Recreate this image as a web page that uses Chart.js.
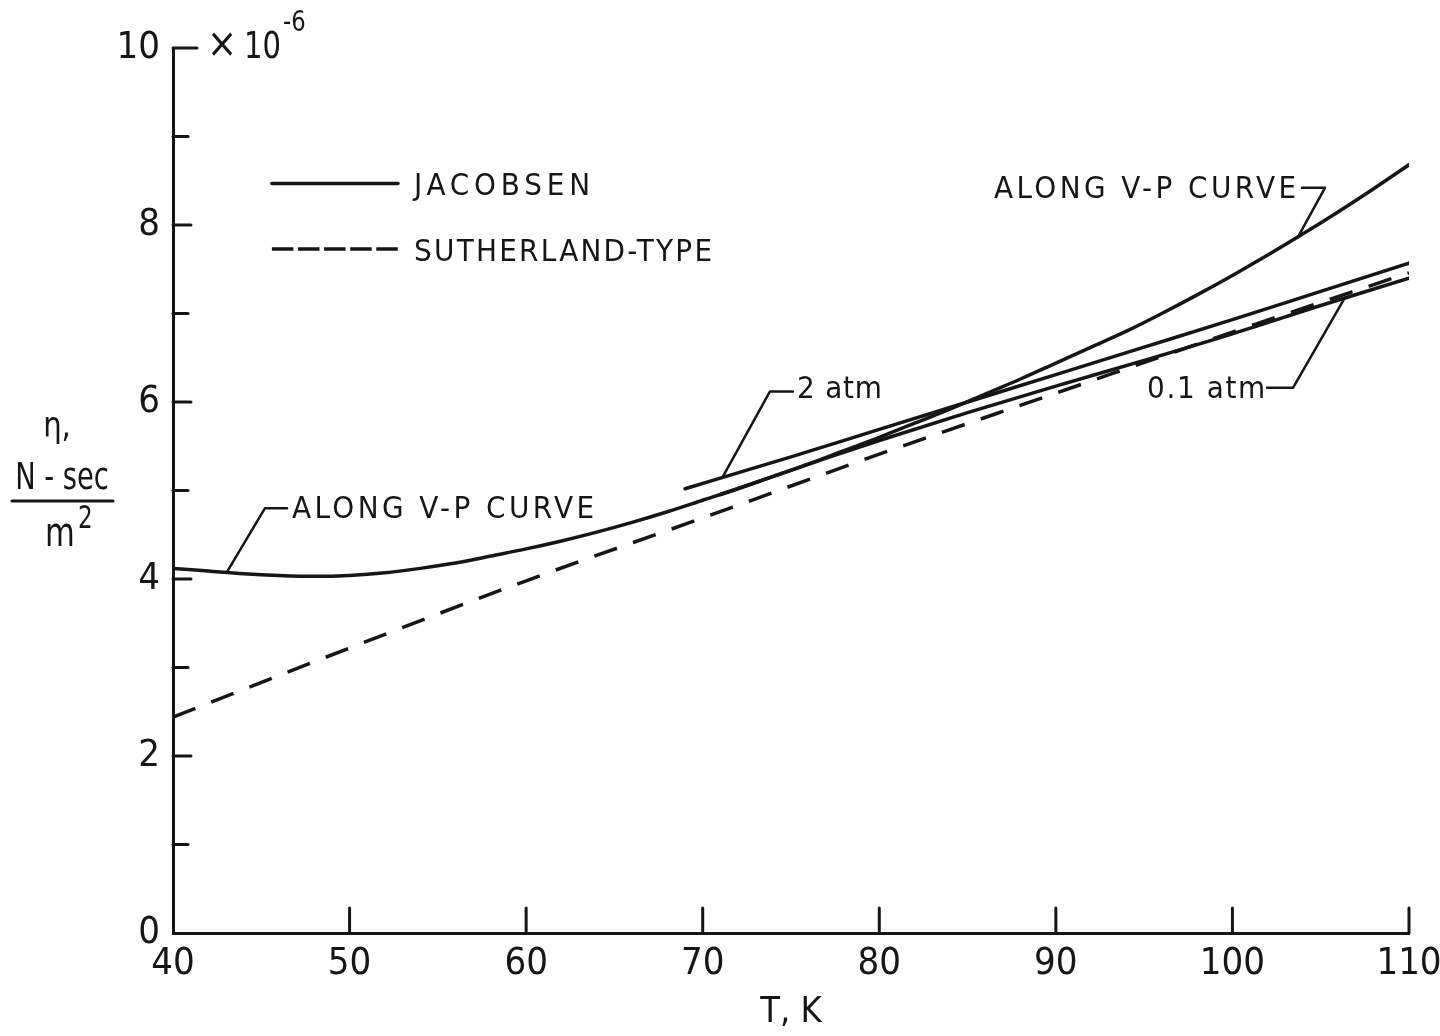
<!DOCTYPE html>
<html lang="en">
<head>
<meta charset="UTF-8">
<title>Viscosity of nitrogen vs temperature</title>
<script src="https://cdn.jsdelivr.net/npm/chart.js"></script>
<style>
  html, body { margin: 0; padding: 0; background: #fff; }
  .chart-box { width: 1440px; height: 1036px; }
</style>
</head>
<body>
<div class="chart-box"><canvas id="etaChart"></canvas></div>
<script>
  const INK = '#161616';
  const FONT = "'Liberation Sans Narrow', 'DejaVu Sans Condensed', sans-serif";

  // Jacobsen, along the vapour-pressure curve
  const vpT   = [40, 42, 44, 46, 48, 50, 52, 54, 56, 58, 60, 62, 64, 66, 68, 70, 72, 74, 76, 78,
                 80, 82, 84, 86, 88, 90, 92, 94, 96, 98, 100, 102, 104, 106, 108, 110];
  const vpEta = [4.12, 4.09, 4.06, 4.04, 4.03, 4.04, 4.07, 4.12, 4.18, 4.26, 4.34, 4.43, 4.53, 4.64, 4.76, 4.89, 5.02, 5.16, 5.30, 5.45,
                 5.60, 5.76, 5.92, 6.09, 6.26, 6.44, 6.62, 6.80, 7.00, 7.21, 7.43, 7.66, 7.90, 8.15, 8.41, 8.68];

  // Jacobsen, 2 atm
  const atm2T   = [69, 75, 80, 85, 90, 95, 100, 105, 110];
  const atm2Eta = [5.02, 5.38, 5.69, 6.00, 6.31, 6.62, 6.93, 7.25, 7.57];

  // Jacobsen, 0.1 atm
  const atm01T   = [71, 74, 77, 80, 85, 90, 95, 100, 105, 110];
  const atm01Eta = [4.955, 5.16, 5.365, 5.565, 5.88, 6.18, 6.47, 6.77, 7.09, 7.40];

  // Sutherland-type
  const suthT   = [40, 50, 60, 70, 80, 90, 100, 110];
  const suthEta = [2.44, 3.22, 3.98, 4.69, 5.41, 6.10, 6.79, 7.46];

  const xTicks  = [40, 50, 60, 70, 80, 90, 100, 110];
  const yTicks  = [0, 1, 2, 3, 4, 5, 6, 7, 8, 9, 10];
  const yLabels = [0, 2, 4, 6, 8, 10];

  const pts = (xs, ys) => xs.map((t, i) => ({ x: t, y: ys[i] }));

  const lineStyle = {
    borderColor: INK,
    borderWidth: 3.5,
    pointRadius: 0,
    fill: false,
    cubicInterpolationMode: 'monotone',
    borderCapStyle: 'round'
  };

  // draw text stretched by letter spacing to a given width (left edge x)
  function spread(ctx, str, x, y, size, width) {
    ctx.font = size + 'px ' + FONT;
    ctx.letterSpacing = '0px';
    const w0 = ctx.measureText(str).width;
    const gap = str.length > 1 ? (width - w0) / (str.length - 1) : 0;
    ctx.letterSpacing = gap + 'px';
    ctx.textAlign = 'left';
    ctx.textBaseline = 'middle';
    ctx.fillText(str, x, y);
    ctx.letterSpacing = '0px';
  }

  function text(ctx, str, x, y, size, align, sx) {
    ctx.save();
    ctx.translate(x, y);
    ctx.scale(sx || 1, 1);
    ctx.font = size + 'px ' + FONT;
    ctx.letterSpacing = '0px';
    ctx.textAlign = align;
    ctx.textBaseline = 'middle';
    ctx.fillText(str, 0, 0);
    ctx.restore();
  }

  function poly(ctx, points) {
    ctx.beginPath();
    points.forEach((p, i) => i ? ctx.lineTo(p[0], p[1]) : ctx.moveTo(p[0], p[1]));
    ctx.stroke();
  }

  const annotate = {
    id: 'annotate',
    afterDraw(chart) {
      const { ctx, scales: { x, y } } = chart;
      const px = t => x.getPixelForValue(t);
      const py = v => y.getPixelForValue(v);
      ctx.save();
      ctx.strokeStyle = INK;
      ctx.fillStyle = INK;
      ctx.lineCap = 'round';
      ctx.lineJoin = 'round';

      // inward tick marks
      ctx.lineWidth = 3;
      y.ticks.forEach(t => {
        if (t.value === 0) return;
        const len = t.value === 10 ? 24 : (t.value % 2 === 0 ? 18 : 15);
        poly(ctx, [[x.left, py(t.value)], [x.left + len, py(t.value)]]);
      });
      x.ticks.forEach(t => {
        if (t.value === 40) return;
        poly(ctx, [[px(t.value), y.bottom], [px(t.value), y.bottom - 25]]);
      });

      // legend
      ctx.lineWidth = 3.5;
      poly(ctx, [[px(45.6), py(8.47)], [px(52.74), py(8.47)]]);
      ctx.lineCap = 'butt';
      ctx.setLineDash([21.5, 4.6]);
      poly(ctx, [[px(45.6), py(7.73)], [px(52.74), py(7.73)]]);
      ctx.setLineDash([]);
      ctx.lineCap = 'round';
      spread(ctx, 'JACOBSEN', px(53.65), py(8.43), 31, 176);
      spread(ctx, 'SUTHERLAND-TYPE', px(53.65), py(7.68), 31, 298);

      // curve labels with leaders
      ctx.lineWidth = 2.5;
      spread(ctx, 'ALONG V-P CURVE', px(103.6) - 302, py(8.40), 31, 302);
      poly(ctx, [[px(103.94), py(8.42)], [px(105.24), py(8.42)], [px(103.7), py(7.86)]]);

      spread(ctx, 'ALONG V-P CURVE', px(46.74), py(4.78), 31, 302);
      poly(ctx, [[px(46.46), py(4.80)], [px(45.21), py(4.80)], [px(43.06), py(4.08)]]);

      spread(ctx, '2 atm', px(75.34), py(6.14), 31, 85);
      poly(ctx, [[px(75.11), py(6.12)], [px(73.81), py(6.12)], [px(71.15), py(5.16)]]);

      spread(ctx, '0.1 atm', px(101.85) - 118, py(6.14), 31, 118);
      poly(ctx, [[px(101.96), py(6.16)], [px(103.43), py(6.16)], [px(106.37), py(7.18)]]);

      // exponent note at top of axis
      text(ctx, '\u00d7', x.left + 49, py(10) - 1, 40, 'center');
      text(ctx, '10', x.left + 71, py(10), 38, 'left', 0.85);
      text(ctx, '-6', x.left + 110, py(10) - 24, 28, 'left', 0.9);

      // y axis title
      text(ctx, '\u03b7,', 57, 428, 36, 'center', 0.9);
      text(ctx, 'N - sec', 62, 479, 37, 'center', 0.82);
      ctx.lineWidth = 3;
      poly(ctx, [[12, 501], [113, 501]]);
      text(ctx, 'm', 60, 536, 40, 'center', 0.85);
      text(ctx, '2', 78, 520, 32, 'left', 0.8);

      ctx.restore();
    }
  };

  new Chart(document.getElementById('etaChart'), {
    type: 'line',
    data: {
      datasets: [
        { label: 'Along V-P curve', data: pts(vpT, vpEta), ...lineStyle },
        { label: '2 atm', data: pts(atm2T, atm2Eta), ...lineStyle },
        { label: '0.1 atm', data: pts(atm01T, atm01Eta), ...lineStyle },
        { label: 'Sutherland-type', data: pts(suthT, suthEta), ...lineStyle, borderCapStyle: 'butt', borderDash: [24, 17] }
      ]
    },
    options: {
      responsive: true,
      maintainAspectRatio: false,
      animation: false,
      layout: { padding: { left: 0, top: 48, right: 31, bottom: 0 } },
      plugins: { legend: { display: false }, tooltip: { enabled: false } },
      scales: {
        x: {
          type: 'linear', min: 40, max: 110,
          afterBuildTicks: s => { s.ticks = xTicks.map(v => ({ value: v })); },
          afterFit: s => { s.height = 103; s.paddingLeft = 0; s.paddingRight = 0; },
          grid: { display: false, drawTicks: false },
          border: { display: true, color: INK, width: 3 },
          ticks: { color: INK, padding: 8, font: { family: FONT, size: 38 }, maxRotation: 0, autoSkip: false },
          title: { display: true, text: 'T, K', color: INK, font: { family: FONT, size: 36 }, padding: { top: 0, bottom: 2 } }
        },
        y: {
          type: 'linear', min: 0, max: 10,
          afterBuildTicks: s => { s.ticks = yTicks.map(v => ({ value: v })); },
          afterFit: s => { s.width = 173; s.paddingTop = 0; s.paddingBottom = 0; },
          grid: { display: false, drawTicks: false },
          border: { display: true, color: INK, width: 3 },
          ticks: {
            color: INK, padding: 13, autoSkip: false,
            font: { family: FONT, size: 38 },
            callback: v => yLabels.includes(v) ? String(v) : ''
          }
        }
      }
    },
    plugins: [annotate]
  });
</script>
</body>
</html>
